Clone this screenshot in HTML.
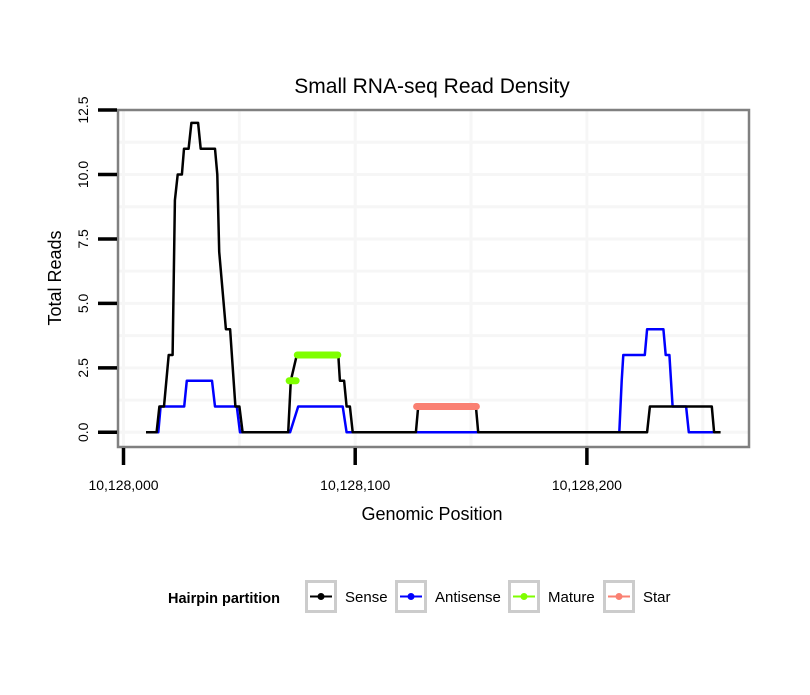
<!DOCTYPE html>
<html><head><meta charset="utf-8"><style>
body{margin:0;background:#fff;}
svg text{font-family:"Liberation Sans",sans-serif;}
</style></head><body>
<svg id="chart" width="810" height="690" xmlns="http://www.w3.org/2000/svg">
<rect width="810" height="690" fill="#fff"/>
<text x="432" y="93" font-size="21" text-anchor="middle" fill="#000">Small RNA-seq Read Density</text>
<g id="grid"></g>
<g id="series"></g>
<rect x="118" y="110" width="631" height="337" fill="none" stroke="#808080" stroke-width="2.5"/>
<g id="axes"></g>
<text x="432" y="520" font-size="18" text-anchor="middle">Genomic Position</text>
<text transform="translate(61,278) rotate(-90)" font-size="18" text-anchor="middle">Total Reads</text>
<g>
<text x="168" y="603" font-size="14.5" font-weight="bold">Hairpin partition</text>
<g id="legend-keys"></g>
</g>
</svg>
<script>
const xTicks=[10128000,10128100,10128200];
const xTickLabels=["10,128,000","10,128,100","10,128,200"];
const yTicks=[0,2.5,5,7.5,10,12.5];
const yTickLabels=["0.0","2.5","5.0","7.5","10.0","12.5"];
const base=10128000;
const senseX=[9.7,14.3,15.5,17.5,19.5,21.2,22.2,23.4,25.2,26.1,28.1,29.3,32.2,33.3,39.5,40.5,41.3,44.2,46,48.3,50,51.4,71.1,72.2,74.8,92.7,93.4,95.2,96.3,97.7,98.9,126.2,127.2,152.1,153.1,226,227.2,253.9,254.9,257.7];
const senseY=[0,0,1,1,3,3,9,10,10,11,11,12,12,11,11,10,7,4,4,1,1,0,0,2,3,3,2,2,1,1,0,0,1,1,0,0,1,1,0,0];
const antiX=[9.7,15,16,26.2,27.3,38.2,39.5,48.9,50.3,71.9,75.4,94.6,96.3,214,215,215.7,225,226,233,234,235.6,237,242.8,244,254.6];
const antiY=[0,0,1,1,2,2,1,1,0,0,1,1,0,0,2,3,3,4,4,3,3,1,1,0,0];
const matureSegStart=[71.5,75];
const matureSegEnd=[74.5,92.5];
const matureSegVal=[2,3];
const starSegStart=[126.5];
const starSegEnd=[152.3];
const starSegVal=[1];
const legendLabels=["Sense","Antisense","Mature","Star"];
const legendColors=["#000000","#0000ff","#7fff00","#fa8072"];

const NS="http://www.w3.org/2000/svg";
function xs(p){return 123.5+(p-base)*2.317;}
function xo(o){return 123.5+o*2.317;}
function ys(v){return 432.3-v*25.78;}
function mk(tag,attrs,parent){const e=document.createElementNS(NS,tag);for(const k in attrs)e.setAttribute(k,attrs[k]);parent.appendChild(e);return e;}
const grid=document.getElementById('grid'),series=document.getElementById('series'),axes=document.getElementById('axes');
mk('rect',{x:118,y:110,width:631,height:337,fill:'#ffffff'},grid);
for(let v=-1.25;v<=13.75;v+=1.25){const y=ys(v);if(y<111||y>446)continue;
 const l=mk('line',{x1:119,x2:748,y1:y,y2:y,stroke:'#f6f6f6','stroke-width':3},grid);
 
 }
for(let p=base-50;p<=base+300;p+=50){const x=xs(p);if(x<119||x>748)continue;
 const l=mk('line',{x1:x,x2:x,y1:111,y2:446,stroke:'#f6f6f6','stroke-width':3},grid);
 
 }
function poly(X,Y,color,name){const pts=X.map((o,i)=>xo(o).toFixed(1)+','+ys(Y[i]).toFixed(1)).join(' ');
 const p=mk('polyline',{points:pts,fill:'none',stroke:color,'stroke-width':2.5,'stroke-linejoin':'round'},series);
 
 }
poly(antiX,antiY,'#0000ff','antisense-line');
poly(senseX,senseY,'#000000','sense-line');
function segs(S,E,V,color,name){S.forEach((s,i)=>{
 const l=mk('line',{x1:xo(s),x2:xo(E[i]),y1:ys(V[i]),y2:ys(V[i]),stroke:color,'stroke-width':7,'stroke-linecap':'round'},series);
 
 });}
segs(matureSegStart,matureSegEnd,matureSegVal,'#7fff00','mature-segment');
segs(starSegStart,starSegEnd,starSegVal,'#fa8072','star-segment');
yTicks.forEach((v,i)=>{const y=ys(v);
 const t=mk('line',{x1:98,x2:117,y1:y,y2:y,stroke:'#000','stroke-width':3.5},axes);
 
 
 const tx=mk('text',{transform:`translate(88,${y}) rotate(-90)`,'font-size':14,'text-anchor':'middle'},axes);
 tx.textContent=yTickLabels[i];
 
 });
xTicks.forEach((p,i)=>{const x=xs(p);
 const t=mk('line',{x1:x,x2:x,y1:448,y2:465,stroke:'#000','stroke-width':3.5},axes);
 
 
 const tx=mk('text',{x:x,y:490,'font-size':14,'text-anchor':'middle'},axes);
 tx.textContent=xTickLabels[i];
 
 });
const lk=document.getElementById('legend-keys');
const keyX=[305,395,508,603];
legendLabels.forEach((lab,i)=>{const g=mk('g',{},lk);
 
 
 const x=keyX[i];
 mk('rect',{x:x+1.5,y:581.5,width:29,height:30,fill:'#fff',stroke:'#cccccc','stroke-width':3},g);
 mk('line',{x1:x+5,x2:x+27,y1:596.5,y2:596.5,stroke:legendColors[i],'stroke-width':2},g);
 mk('circle',{cx:x+16,cy:596.5,r:3.5,fill:legendColors[i]},g);
 const t=mk('text',{x:x+40,y:602,'font-size':15},g);t.textContent=lab;});
</script>
</body></html>
